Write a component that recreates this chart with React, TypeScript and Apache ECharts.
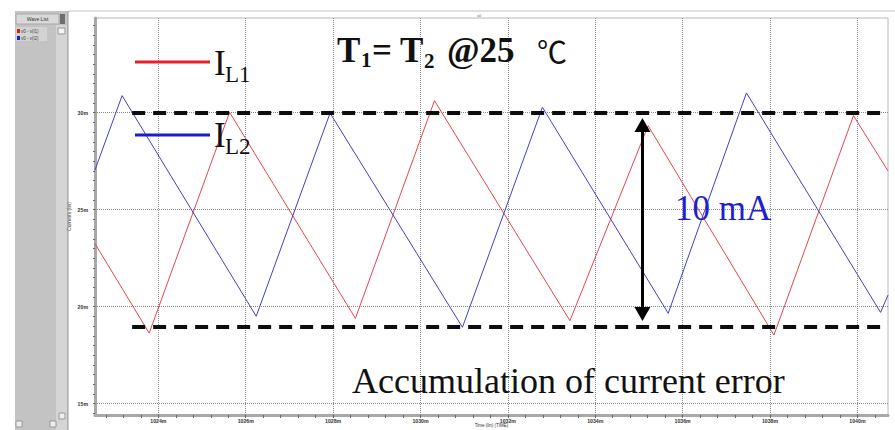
import React, { useEffect, useRef } from 'react';
import * as echarts from 'echarts';

// ---- axes ----
const X_MIN = 1022.55;
const X_MAX = 1040.7;
const Y_MIN = 14.42;
const Y_MAX = 34.88;
const xTickLabels = [1024, 1026, 1028, 1030, 1032, 1034, 1036, 1038, 1040];
const yTickLabels = [15, 20, 25, 30];

// ---- waveforms (time in ms, current in mA) ----
const iL1Time = [1022.55, 1023.79, 1025.63, 1028.51, 1030.32, 1033.42, 1035.21, 1038.09, 1039.91, 1040.7];
const iL1Current = [23.25, 18.64, 30.02, 19.4, 30.62, 19.28, 29.33, 18.54, 29.85, 27.0];
const iL2Time = [1022.55, 1023.17, 1026.24, 1027.93, 1030.96, 1032.79, 1035.67, 1037.46, 1040.53, 1040.7];
const iL2Current = [27.05, 30.88, 19.51, 29.98, 18.94, 30.28, 19.66, 31.02, 19.71, 20.6];

// ---- annotations ----
const refUpper = 30.0;
const refLower = 18.95;
const refStart = 1023.4;
const refEnd = 1040.7;
const arrowTime = 1035.08;
const arrowTop = 29.37;
const arrowBottom = 19.62;

const SERIF = '"Liberation Serif", "Times New Roman", serif';
const SANS = '"Liberation Sans", Arial, sans-serif';

function txt(text: string, x: number, y: number, fontSize: number, extra: any = {}) {
  return {
    type: 'text',
    x,
    y,
    silent: true,
    z: 10,
    style: {
      text,
      fontSize,
      fontFamily: extra.fontFamily || SERIF,
      fontWeight: extra.fontWeight || 'normal',
      fill: extra.fill || '#111',
      align: extra.align || 'left',
      textAlign: extra.align || 'left',
      verticalAlign: 'middle',
      textVerticalAlign: 'middle',
    },
  };
}

function rect(x: number, y: number, w: number, h: number, fill: string, stroke?: string) {
  return {
    type: 'rect',
    silent: true,
    z: 0,
    shape: { x, y, width: w, height: h },
    style: { fill, stroke: stroke || null, lineWidth: stroke ? 1 : 0 },
  };
}

function hline(x1: number, x2: number, y: number, stroke: string, width: number, z = 10) {
  return {
    type: 'line',
    silent: true,
    z,
    shape: { x1, y1: y, x2, y2: y },
    style: { stroke, lineWidth: width },
  };
}

export default function App() {
  const ref = useRef<HTMLDivElement>(null);
  useEffect(() => {
    if (!ref.current) return;
    const chart = echarts.init(ref.current, undefined, { renderer: 'svg' });

    const xMinor: number[] = [];
    xTickLabels.forEach((m) => {
      for (let k = -5; k < 5; k++) {
        const v = Math.round((m + k * 0.4) * 100) / 100;
        if (v > X_MIN && v < X_MAX && xMinor.indexOf(v) < 0) xMinor.push(v);
      }
    });
    const yMinor: number[] = [];
    for (let v = 14.5; v < Y_MAX; v += 0.5) yMinor.push(Math.round(v * 10) / 10);

    const l1 = iL1Time.map((t, i) => [t, iL1Current[i]]);
    const l2 = iL2Time.map((t, i) => [t, iL2Current[i]]);
    const dashed = { type: [13, 8], width: 4, color: '#0d0d0d' };

    const option: any = {
      animation: false,
      backgroundColor: '#ffffff',
      grid: {
        left: 95,
        right: 7,
        top: 18,
        bottom: 15,
        outerBoundsMode: 'none',
        containLabel: false,
        show: true,
        borderColor: '#b8b8b8',
        borderWidth: 1,
        backgroundColor: '#ffffff',
      },
      xAxis: {
        type: 'value',
        min: X_MIN,
        max: X_MAX,
        name: 'Time (lin) (TIME)',
        nameLocation: 'middle',
        nameGap: 8,
        nameMoveOverlap: false,
        nameTextStyle: { fontSize: 4.5, color: '#333', fontFamily: SANS },
        axisLine: { show: true, onZero: false, lineStyle: { color: '#a8a8a8', width: 3 } },
        axisTick: { show: true, customValues: xMinor, length: 3, lineStyle: { color: '#666', width: 1 } },
        axisLabel: {
          customValues: xTickLabels,
          formatter: (v: number) => Math.round(v) + 'm',
          fontSize: 5.2,
          color: '#333',
          fontFamily: SANS,
          fontWeight: 'bold',
          margin: 3,
        },
        splitLine: { show: false },
      },
      yAxis: {
        type: 'value',
        min: Y_MIN,
        max: Y_MAX,
        name: 'Currents (lin)',
        nameLocation: 'middle',
        nameGap: 24,
        nameMoveOverlap: false,
        nameTextStyle: { fontSize: 5, color: '#333', fontFamily: SANS },
        axisLine: { show: true, onZero: false, lineStyle: { color: '#a8a8a8', width: 3 } },
        axisTick: { show: true, customValues: yMinor, length: 2, lineStyle: { color: '#666', width: 1 } },
        axisLabel: {
          customValues: yTickLabels,
          formatter: (v: number) => Math.round(v) + 'm',
          fontSize: 5.2,
          color: '#333',
          fontFamily: SANS,
          fontWeight: 'bold',
          margin: 7,
        },
        splitLine: { show: false },
      },
      series: [
        {
          name: 'grid',
          type: 'line',
          data: [],
          z: 1,
          silent: true,
          markLine: {
            silent: true,
            z: 1,
            symbol: ['none', 'none'],
            label: { show: false },
            lineStyle: { type: 'dotted', color: '#8a8a8a', width: 1 },
            emphasis: { disabled: true },
            data: [
              ...xTickLabels.map((v) => ({ xAxis: v })),
              ...yTickLabels.map((v) => ({ yAxis: v })),
            ],
          },
        },
        {
          name: 'IL1',
          type: 'line',
          data: l1,
          symbol: 'none',
          z: 3,
          lineStyle: { color: '#e2474c', width: 1 },
          itemStyle: { color: '#e2474c' },
          silent: true,
        },
        {
          name: 'IL2',
          type: 'line',
          data: l2,
          symbol: 'none',
          z: 3,
          clip: false,
          lineStyle: { color: '#4141c2', width: 1 },
          itemStyle: { color: '#4141c2' },
          silent: true,
          markLine: {
            silent: true,
            z: 6,
            label: { show: false },
            emphasis: { disabled: true },
            data: [
              [
                { coord: [refStart, refUpper], symbol: 'none', lineStyle: dashed },
                { coord: [refEnd, refUpper], symbol: 'none', lineStyle: dashed },
              ],
              [
                { coord: [refStart, refLower], symbol: 'none', lineStyle: dashed },
                { coord: [refEnd, refLower], symbol: 'none', lineStyle: dashed },
              ],
              [
                { coord: [arrowTime, arrowTop], symbol: 'triangle', symbolSize: [16, 14] },
                {
                  coord: [arrowTime, arrowBottom],
                  symbol: 'triangle',
                  symbolSize: [16, 14],
                  lineStyle: { type: 'solid', width: 3, color: '#000' },
                  itemStyle: { color: '#000' },
                },
              ],
            ],
          },
        },
      ],
      graphic: [
        // window frame
        hline(68, 895, 11, '#c2c2c2', 1, 0),
        // wave list panel
        rect(15, 11, 53, 419, '#c3c3c3'),
        rect(56, 25, 11, 405, '#d5d5d5'),
        { type: 'line', silent: true, z: 1, shape: { x1: 68, y1: 11, x2: 68, y2: 430 }, style: { stroke: '#9a9a9a', lineWidth: 1 } },
        rect(16, 14, 43, 10, '#d9d9d9', '#a9a9a9'),
        txt('Wave List', 37.5, 19, 5, { align: 'center', fontFamily: SANS, fill: '#333' }),
        rect(60, 14, 5, 10, '#6e6e6e'),
        rect(16, 27, 31, 14, '#d2d2d2'),
        rect(17, 29, 3, 4, '#d02020'),
        rect(17, 36, 3, 4, '#2020c0'),
        txt('v0 - v(l1)', 21, 31, 4.5, { fontFamily: SANS, fill: '#444' }),
        txt('v0 - v(l2)', 21, 38, 4.5, { fontFamily: SANS, fill: '#444' }),
        rect(58, 28, 7, 6, '#f4f4f4', '#999'),
        rect(16, 421, 6, 6, '#eeeeee', '#999'),
        rect(50, 421, 6, 6, '#eeeeee', '#999'),
        rect(59, 413, 6, 6, '#eeeeee', '#999'),
        txt('x0', 479, 15, 4, { align: 'center', fontFamily: SANS, fill: '#666' }),
        // legend
        hline(135, 210, 62, '#e5202a', 3),
        txt('I', 214, 63.3, 35),
        txt('L1', 225, 74.5, 23),
        hline(135, 210, 135, '#1c1ccf', 3),
        txt('I', 214, 135.8, 35),
        txt('L2', 225, 146.5, 23),
        // title
        txt('T', 337, 50, 35, { fontWeight: 'bold' }),
        txt('1', 361, 60, 21, { fontWeight: 'bold' }),
        txt('= T', 372, 50, 35, { fontWeight: 'bold' }),
        txt('2', 424, 60.5, 21, { fontWeight: 'bold' }),
        txt('@25', 447, 50, 35, { fontWeight: 'bold' }),
        txt('℃', 537, 50, 30, { fontFamily: '"Noto Sans CJK SC", sans-serif' }),
        // annotations
        txt('10 mA', 675, 208.5, 35, { fill: '#1f1fcc' }),
        txt('Accumulation of current error', 352, 380.5, 36),
      ],
    };

    chart.setOption(option);
    return () => chart.dispose();
  }, []);

  return (
    <div
      ref={ref}
      style={{ position: 'fixed', left: 0, top: 0, width: 895, height: 430, background: '#fff' }}
    />
  );
}
